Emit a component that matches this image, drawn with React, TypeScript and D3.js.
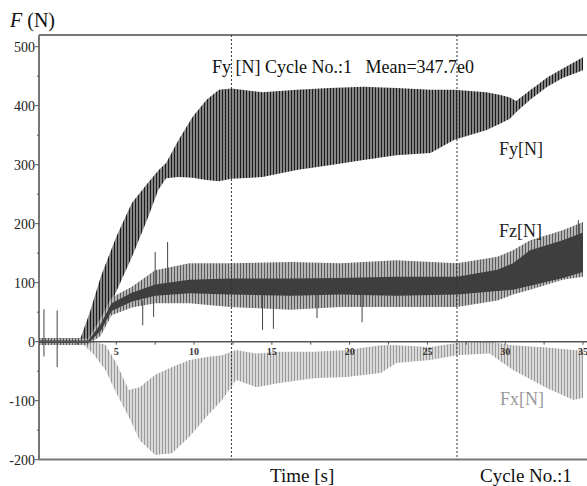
import React from "react"
import { scaleLinear, area, range } from "d3"

// time axis values (s) and force envelopes (N)
const fyTime = [0, 2.7, 3.3, 4, 5, 6, 7, 7.7, 8.2, 9, 9.9, 10.8, 11.6, 12.4, 14.4, 16.6, 18.7, 20.9, 23, 25.2, 26.7, 28.8, 29.7, 30.3, 30.7, 31.6, 32.7, 33.7, 35]
const fyHigh = [6, 6, 50, 110, 178, 235, 268, 290, 303, 342, 381, 410, 427, 429, 423, 427, 430, 432, 430, 427, 427, 423, 418, 414, 408, 426, 448, 463, 482]
const fyLow = [-5, -5, 0, 25, 85, 143, 208, 257, 277, 279, 278, 274, 272, 276, 279, 291, 299, 308, 316, 320, 342, 359, 370, 378, 389, 410, 432, 447, 460]

const fzTime = [0, 3.2, 4, 4.7, 6, 7.5, 9.7, 12.3, 16.2, 19.4, 23, 26.9, 29.5, 30.5, 31.6, 33.7, 35]
const fzHigh = [5, 5, 40, 75, 93, 121, 133, 133, 135, 133, 138, 133, 144, 155, 172, 189, 203]
const fzLow = [-5, -5, 10, 45, 58, 65, 65, 59, 54, 59, 59, 59, 70, 80, 88, 105, 110]
const fzCoreHigh = [2, 2, 30, 65, 83, 97, 105, 107, 107, 108, 110, 110, 122, 133, 155, 172, 185]
const fzCoreLow = [-2, -2, 18, 52, 68, 78, 82, 80, 78, 80, 78, 80, 86, 88, 95, 108, 118]

const fxTime = [0, 2.8, 3.5, 4.3, 5, 5.8, 6.5, 7.5, 8.6, 9.7, 10.8, 11.8, 12.7, 14, 15.5, 17.7, 19.8, 22, 23, 25.2, 26.9, 29, 30.5, 32.7, 34.4, 35]
const fxHigh = [3, 3, 0, -5, -36, -82, -77, -56, -43, -31, -26, -23, -14, -20, -17, -17, -14, -6, -6, -9, -2, 0, -6, -10, -14, -15]
const fxLow = [-3, -3, -20, -48, -87, -127, -167, -192, -189, -161, -127, -99, -65, -77, -70, -62, -60, -53, -36, -31, -23, -20, -48, -79, -99, -95]

// isolated spikes: time, min, max
const spikeTime = [0.35, 1.2, 6.7, 7.4, 7.5, 8.3, 14.4, 15.1, 17.9, 20.8, 34.7]
const spikeMin = [-25, -43, 28, 42, 80, 90, 20, 22, 40, 33, 150]
const spikeMax = [55, 53, 70, 80, 152, 169, 80, 80, 80, 90, 206]

const yTicks = [-200, -100, 0, 100, 200, 300, 400, 500]
const xTicks = [5, 10, 15, 20, 25, 30, 35]
const cursorTimes = [12.4, 26.9]

const serif = "'Liberation Serif', 'Times New Roman', serif"

export default function App() {
  const x = scaleLinear().domain([0, 35]).range([38.5, 583])
  const y = scaleLinear().domain([-200, 500]).range([459.7, 46.7])

  const band = (t: number[], hi: number[], lo: number[]) =>
    area<number>()
      .x((i) => x(t[i]))
      .y0((i) => y(lo[i]))
      .y1((i) => y(hi[i]))(range(t.length)) || ""

  const left = 39
  const right = 587
  const top = 35
  const bottom = 459.5

  return (
    <svg width={587} height={486} style={{ position: "absolute", left: 0, top: 0, background: "#fff" }}>
      <defs>
        <pattern id="fyTex" width={3} height={10} patternUnits="userSpaceOnUse">
          <rect width={3} height={10} fill="#858585" />
          <line x1={0.5} x2={0.5} y1={0} y2={10} stroke="#1a1a1a" strokeWidth={1} />
        </pattern>
        <pattern id="fzTex" width={3} height={10} patternUnits="userSpaceOnUse">
          <rect width={3} height={10} fill="#b4b4b4" />
          <line x1={0.5} x2={0.5} y1={0} y2={10} stroke="#5a5a5a" strokeWidth={1} />
        </pattern>
        <pattern id="fxTex" width={3} height={10} patternUnits="userSpaceOnUse">
          <rect width={3} height={10} fill="#dadada" />
          <line x1={0.5} x2={0.5} y1={0} y2={10} stroke="#9a9a9a" strokeWidth={1} />
        </pattern>
      </defs>

      {/* frame */}
      <line x1={left} x2={right} y1={top} y2={top} stroke="#777" strokeWidth={2} />
      <line x1={left} x2={right} y1={bottom} y2={bottom} stroke="#777" strokeWidth={2} />
      <line x1={left} x2={left} y1={top} y2={bottom} stroke="#777" strokeWidth={2} />

      {/* signals */}
      <path d={band(fxTime, fxHigh, fxLow)} fill="url(#fxTex)" />
      <path d={band(fyTime, fyHigh, fyLow)} fill="url(#fyTex)" />
      <path d={band(fzTime, fzHigh, fzLow)} fill="url(#fzTex)" />
      <path d={band(fzTime, fzCoreHigh, fzCoreLow)} fill="#3e3e3e" />
      {spikeTime.map((t, i) => (
        <line key={i} x1={x(t)} x2={x(t)} y1={y(spikeMin[i])} y2={y(spikeMax[i])} stroke="#444" strokeWidth={1} />
      ))}

      {/* cursors */}
      {cursorTimes.map((t) => (
        <line key={t} x1={x(t)} x2={x(t)} y1={top} y2={bottom} stroke="#333" strokeWidth={1} strokeDasharray="2,2" />
      ))}

      {/* zero axis */}
      <line x1={left} x2={right} y1={y(0)} y2={y(0)} stroke="#555" strokeWidth={1.5} />
      {range(2.5, 35.1, 2.5).map((t) => (
        <line key={t} x1={x(t)} x2={x(t)} y1={y(0)} y2={y(0) + 3} stroke="#555" />
      ))}
      {xTicks.map((t) => (
        <text key={t} x={x(t)} y={y(0) + 13} textAnchor="middle" fontFamily={serif} fontSize={10} fontWeight="bold" fill="#333">
          {t}
        </text>
      ))}

      {/* y axis */}
      {range(-200, 501, 50).map((v) => (
        <line key={v} x1={v % 100 === 0 ? left - 4 : left - 2} x2={left} y1={y(v)} y2={y(v)} stroke="#555" />
      ))}
      {yTicks.map((v) => (
        <text key={v} x={left - 4} y={y(v) + 5} textAnchor="end" fontFamily={serif} fontSize={14} fill="#222">
          {v}
        </text>
      ))}

      {/* labels */}
      <text x={10} y={27} fontFamily={serif} fontSize={20} fill="#111">
        <tspan fontStyle="italic">F</tspan> (N)
      </text>
      <text x={212} y={73} fontFamily={serif} fontSize={18} fill="#111" style={{ whiteSpace: "pre" }}>
        {"Fy [N] Cycle No.:1   Mean=347.7e0"}
      </text>
      <text x={499} y={155} fontFamily={serif} fontSize={18} fill="#222">Fy[N]</text>
      <text x={499} y={237} fontFamily={serif} fontSize={18} fill="#222">Fz[N]</text>
      <text x={500} y={405} fontFamily={serif} fontSize={18} fill="#999">Fx[N]</text>
      <text x={270} y={482} fontFamily={serif} fontSize={19} fill="#111">Time [s]</text>
      <text x={480} y={482} fontFamily={serif} fontSize={19} fill="#111">Cycle No.:1</text>
    </svg>
  )
}
